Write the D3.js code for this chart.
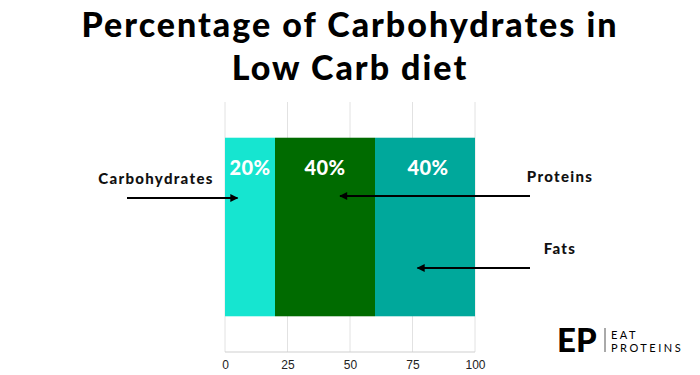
<!DOCTYPE html>
<html>
<head>
<meta charset="utf-8">
<script src="https://cdn.jsdelivr.net/npm/d3@7"></script>
<style>
  body { margin:0; background:#fff; }
  svg { display:block; }
</style>
</head>
<body>
<script>
// data
var segments = ["Carbohydrates", "Proteins", "Fats"];
var shares = [20, 40, 40];
var colors = ["#16e5d0", "#006b00", "#00a89b"];
var ticks = [0, 25, 50, 75, 100];

var titleLines = ["Percentage of Carbohydrates in", "Low Carb diet"];

var window_w = 700, window_h = 375;
var margin = {left:225, top:102, right:225, bottom:23};
var frame_w = window_w - margin.left - margin.right;
var frame_h = window_h - margin.top - margin.bottom;

var xScale = d3.scaleLinear().domain([0, 100]).range([0, frame_w]);
var yBand = d3.scaleBand().domain(["diet"]).range([0, frame_h]).paddingInner(0).paddingOuter(0.2);

var svg = d3.select("body").append("svg").attr("width", window_w).attr("height", window_h);

// title
svg.selectAll(".title").data(titleLines).enter()
    .append("text")
    .attr("class", "title")
    .attr("x", window_w/2)
    .attr("y", function(d, i){ return 37 + i*43; })
    .attr("text-anchor", "middle")
    .style("font-family", "Lato, 'DejaVu Sans', sans-serif")
    .style("font-weight", 900)
    .style("font-size", "34px")
    .style("letter-spacing", "2px")
    .style("fill", "#000")
    .text(function(d){ return d; });

var g = svg.append("g").attr("transform", "translate(" + margin.left + "," + margin.top + ")");

// grid
g.selectAll(".grid").data(ticks).enter()
    .append("line")
    .attr("x1", function(d){ return xScale(d); })
    .attr("x2", function(d){ return xScale(d); })
    .attr("y1", 0).attr("y2", frame_h)
    .attr("stroke", "#e2e2e2").attr("stroke-width", 1);

g.append("line")
    .attr("x1", 0).attr("x2", frame_w)
    .attr("y1", frame_h).attr("y2", frame_h)
    .attr("stroke", "#cfcfcf");

// stacked bar
var cum = 0;
var stacked = shares.map(function(v, i){
    var s = {name: segments[i], v: v, x0: cum, x1: cum + v, c: colors[i]};
    cum += v;
    return s;
});

g.selectAll(".seg").data(stacked).enter()
    .append("rect")
    .attr("x", function(d){ return xScale(d.x0); })
    .attr("width", function(d){ return xScale(d.x1) - xScale(d.x0); })
    .attr("y", yBand("diet"))
    .attr("height", yBand.bandwidth())
    .attr("fill", function(d){ return d.c; });

g.selectAll(".pct").data(stacked).enter()
    .append("text")
    .attr("x", function(d){ return xScale((d.x0 + d.x1)/2) + (d.name == "Fats" ? 3 : 0); })
    .attr("y", yBand("diet") + 37)
    .attr("text-anchor", "middle")
    .style("font-family", "Lato, sans-serif")
    .style("font-weight", 900)
    .style("font-size", "20px")
    .style("letter-spacing", "0.5px")
    .style("fill", "#fff")
    .text(function(d){ return d.v + "%"; });

// axis labels
var xAxis = d3.axisBottom(xScale).tickValues(ticks).tickSize(0).tickPadding(8);
var xAxisG = g.append("g")
    .attr("transform", "translate(0," + frame_h + ")")
    .call(xAxis);
xAxisG.select(".domain").remove();
xAxisG.selectAll("text")
    .style("font-family", "'Liberation Sans', Arial, sans-serif")
    .style("font-size", "12px")
    .style("fill", "#222");

// callouts
svg.append("defs").append("marker")
    .attr("id", "head")
    .attr("viewBox", "0 0 10 10")
    .attr("refX", 9).attr("refY", 5)
    .attr("markerWidth", 4.5).attr("markerHeight", 4)
    .attr("orient", "auto")
    .append("path").attr("d", "M0,0L10,5L0,10z").attr("fill", "#000");

var callouts = [
    {label:"Carbohydrates", lx:156, ly:184, ax1:127, ay:198, ax2:xScale(5)},
    {label:"Proteins",      lx:560, ly:182, ax1:530, ay:196, ax2:xScale(46)},
    {label:"Fats",          lx:560, ly:254, ax1:530, ay:268, ax2:xScale(77)}
];

svg.selectAll(".callout").data(callouts).enter()
    .append("text")
    .attr("x", function(d){ return d.lx; })
    .attr("y", function(d){ return d.ly; })
    .attr("text-anchor", "middle")
    .style("font-family", "Lato, sans-serif")
    .style("font-weight", 900)
    .style("font-size", "15px")
    .style("letter-spacing", "1.3px")
    .style("fill", "#111")
    .text(function(d){ return d.label; });

svg.selectAll(".arrow").data(callouts).enter()
    .append("line")
    .attr("x1", function(d){ return d.ax1; })
    .attr("x2", function(d){ return margin.left + d.ax2; })
    .attr("y1", function(d){ return d.ay; })
    .attr("y2", function(d){ return d.ay; })
    .attr("stroke", "#000").attr("stroke-width", 2)
    .attr("marker-end", "url(#head)");

// logo
var logo = svg.append("g").attr("transform", "translate(557,352)");
logo.append("text").attr("x", 0).attr("y", 0)
    .style("font-family", "Lato, sans-serif").style("font-weight", 900)
    .style("font-size", "33px").style("fill", "#000").text("EP");
logo.append("line").attr("x1", 48).attr("x2", 48).attr("y1", -24).attr("y2", 0)
    .attr("stroke", "#555").attr("stroke-width", 1);
logo.append("text").attr("x", 54).attr("y", -13)
    .style("font-family", "Lato, sans-serif").style("font-size", "11px")
    .style("letter-spacing", "2.5px").style("fill", "#000").text("EAT");
logo.append("text").attr("x", 54).attr("y", 0)
    .style("font-family", "Lato, sans-serif").style("font-size", "11px")
    .style("letter-spacing", "2.5px").style("fill", "#000").text("PROTEINS");
</script>
</body>
</html>
